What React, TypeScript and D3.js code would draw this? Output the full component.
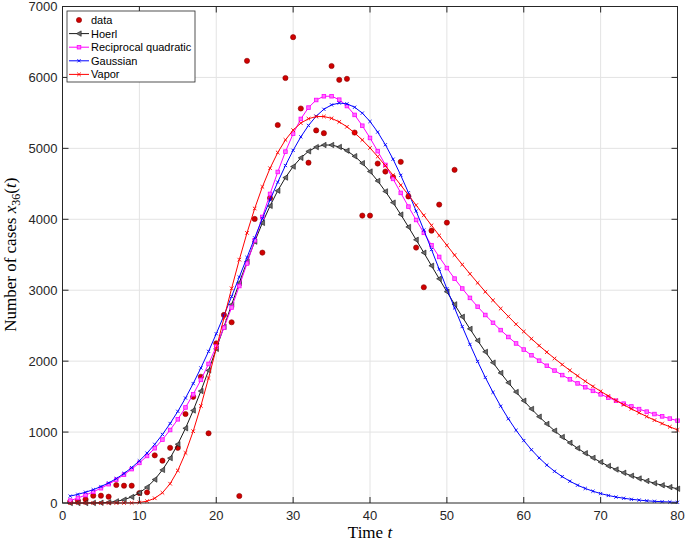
import React from "react";
import * as d3 from "d3";

// ---- data ----
const dataDays = [1, 2, 3, 4, 5, 6, 7, 8, 9, 10, 11, 12, 13, 14, 15, 16, 17, 18, 19, 20, 21, 22, 23, 24, 25, 26, 27, 28, 29, 30, 31, 32, 33, 34, 35, 36, 37, 38, 39, 40, 41, 42, 43, 44, 45, 46, 47, 48, 49, 50, 51];
const dataCases = [20, 35, 52, 103, 103, 89, 254, 244, 244, 140, 150, 672, 597, 778, 778, 1255, 1497, 1780, 983, 2250, 2652, 2548, 99, 6234, 4005, 3530, 4300, 5329, 5992, 6568, 5562, 4798, 5253, 5214, 6161, 5966, 5980, 5223, 4052, 4052, 4786, 4673, 4594, 4810, 4322, 3601, 3042, 3840, 4207, 3953, 4697];

const fitDays = d3.range(1, 81);
const hoerl = [0, 0.01, 0.17, 1, 3.5, 9.9, 23.1, 46.8, 85.3, 142.8, 223.5, 330.6, 466.6, 632.8, 829, 1053.9, 1304.7, 1578.3, 1869.6, 2173.1, 2483.9, 2796.3, 3104.3, 3402.1, 3685, 3949, 4189, 4403, 4588, 4743, 4866, 4958, 5018, 5047, 5047, 5020, 4967, 4889, 4791, 4673, 4541, 4393, 4235, 4067, 3892, 3711, 3529, 3345, 3161, 2979, 2801, 2625, 2455, 2290, 2131, 1979, 1834, 1696, 1565, 1442, 1326, 1217, 1115, 1019.5, 930.9, 848.4, 772.3, 701.8, 636.8, 577.1, 522.2, 471.9, 425.9, 383.9, 345.6, 310.8, 279.1, 250.3, 224.4, 200.8];
const recipQuad = [33.3, 70.4, 111.6, 157.4, 208.4, 265.2, 328.5, 399, 477.7, 565.4, 663.2, 772.3, 893.9, 1029.3, 1179.9, 1347, 1532.1, 1736.3, 1960.6, 2205.6, 2471.2, 2756.2, 3058.9, 3376.5, 3703.2, 4032.9, 4357.6, 4667.4, 4953.9, 5205.6, 5414.8, 5574.9, 5681.8, 5734.5, 5734.9, 5686.3, 5596.7, 5471.6, 5319.2, 5146.7, 4960.7, 4766.2, 4569.1, 4372, 4178.7, 3990.3, 3808.8, 3635, 3469.3, 3312.4, 3163.8, 3023.8, 2891.7, 2767.5, 2650.7, 2540.8, 2437.7, 2340.6, 2249.3, 2163.6, 2082.8, 2006.7, 1934.9, 1867.3, 1803.4, 1743, 1686, 1632, 1580.9, 1532.3, 1486.3, 1442.6, 1401, 1361.5, 1323.9, 1288.1, 1253.9, 1221.2, 1190.1, 1160.3];
const gaussian = [97, 122, 152, 188, 232, 283, 344, 416, 499, 594, 703, 827, 966, 1121, 1292, 1480, 1684, 1904, 2138, 2386, 2644, 2912, 3185, 3462, 3738, 4010, 4273, 4524, 4758, 4972, 5162, 5323, 5454, 5551, 5613, 5639, 5628, 5580, 5497, 5379, 5230, 5051, 4847, 4620, 4375, 4116, 3848, 3573, 3296, 3021, 2750, 2488, 2236, 1996, 1770, 1560, 1365, 1187, 1026, 880, 751, 636, 535, 447, 372, 307, 251, 205, 166, 133, 106, 84, 67, 52, 41, 31, 24, 18, 14, 10];
const vapor = [0, 0, 0, 0, 0, 0, 0.02, 0.22, 1.64, 7.62, 25.4, 66.5, 144.4, 272.1, 458.1, 706.1, 1012.2, 1368.3, 1761.8, 2178.5, 2605.7, 3026.6, 3430.6, 3808, 4152, 4457, 4720, 4941, 5119, 5257, 5356, 5418, 5448, 5449, 5423, 5373, 5304, 5218, 5118, 5006, 4884, 4755, 4621, 4482, 4341, 4199, 4056, 3914, 3772, 3633, 3496, 3362, 3231, 3104, 2978, 2858, 2741, 2630, 2521, 2417, 2316, 2219, 2127, 2038, 1952, 1870, 1792, 1716, 1644, 1575, 1509, 1445, 1385, 1327, 1272, 1219, 1168, 1120, 1074, 1030];

const xTicks = [0, 10, 20, 30, 40, 50, 60, 70, 80];
const yTicks = [0, 1000, 2000, 3000, 4000, 5000, 6000, 7000];
const legendLabels = ["data", "Hoerl", "Reciprocal quadratic", "Gaussian", "Vapor"];

// ---- layout ----
const W = 685;
const H = 543;
const L = 62.5, R = 677.5, T = 6.5, B = 503;
const AX = "#262626";
const SANS = "'Liberation Sans', Arial, Helvetica, sans-serif";
const SERIF = "'Liberation Serif', 'Times New Roman', serif";

const x = d3.scaleLinear().domain([0, 80]).range([L, R]);
const y = d3.scaleLinear().domain([0, 7000]).range([B, T]);

const lineGen = d3.line<[number, number]>().x(d => x(d[0])).y(d => y(d[1]));

function pts(vals: number[]): [number, number][] {
  return fitDays.map((t, i) => [t, vals[i]]);
}

function Tri({ cx, cy }: { cx: number; cy: number }) {
  return <path d={`M${cx - 2.6},${cy} L${cx + 2.2},${cy - 2.7} L${cx + 2.2},${cy + 2.7} Z`} fill="#6a6a6a" stroke="#1a1a1a" strokeWidth={0.6} />;
}
function Sq({ cx, cy }: { cx: number; cy: number }) {
  return <rect x={cx - 1.8} y={cy - 1.8} width={3.6} height={3.6} fill="#ff70ff" stroke="#ff00ff" strokeWidth={0.8} />;
}
function Cross({ cx, cy, color, s }: { cx: number; cy: number; color: string; s: number }) {
  return <path d={`M${cx - s},${cy - s} L${cx + s},${cy + s} M${cx - s},${cy + s} L${cx + s},${cy - s}`} stroke={color} strokeWidth={0.9} fill="none" />;
}

const series = [
  { name: "Hoerl", vals: hoerl, color: "#1a1a1a", marker: (cx: number, cy: number, k: string) => <Tri key={k} cx={cx} cy={cy} /> },
  { name: "Reciprocal quadratic", vals: recipQuad, color: "#ff00ff", marker: (cx: number, cy: number, k: string) => <Sq key={k} cx={cx} cy={cy} /> },
  { name: "Gaussian", vals: gaussian, color: "#0000ff", marker: (cx: number, cy: number, k: string) => <Cross key={k} cx={cx} cy={cy} color="#0000ff" s={1.6} /> },
  { name: "Vapor", vals: vapor, color: "#ff0000", marker: (cx: number, cy: number, k: string) => <Cross key={k} cx={cx} cy={cy} color="#ff0000" s={1.8} /> },
];

export default function App() {
  const lx = 67, ly = 11, lw = 128, lh = 71;
  const rowY = (i: number) => 20 + i * 13.6;
  return (
    <svg width={W} height={H} style={{ position: "absolute", left: 0, top: 0, background: "#fff" }} xmlns="http://www.w3.org/2000/svg">
      <rect x={0} y={0} width={W} height={H} fill="#fff" />
      {/* grid */}
      <g stroke="#e3e3e3" strokeWidth={1}>
        {xTicks.slice(1, -1).map(t => <line key={"gx" + t} x1={x(t)} x2={x(t)} y1={T} y2={B} />)}
        {yTicks.slice(1, -1).map(t => <line key={"gy" + t} x1={L} x2={R} y1={y(t)} y2={y(t)} />)}
      </g>
      {/* data */}
      <g>
        {dataDays.map((t, i) => (
          <circle key={"d" + t} cx={x(t)} cy={y(dataCases[i])} r={2.6} fill="#d00000" stroke="#8a0000" strokeWidth={0.6} />
        ))}
      </g>
      {/* fitted curves */}
      {series.map(s => (
        <g key={s.name}>
          <path d={lineGen(pts(s.vals)) || ""} fill="none" stroke={s.color} strokeWidth={1} />
          {pts(s.vals).map(([t, v]) => s.marker(x(t), y(v), s.name + t))}
        </g>
      ))}
      {/* box + ticks */}
      <rect x={L} y={T} width={R - L} height={B - T} fill="none" stroke={AX} strokeWidth={1} />
      <g stroke={AX} strokeWidth={1}>
        {xTicks.map(t => (
          <g key={"tx" + t}>
            <line x1={x(t)} x2={x(t)} y1={B} y2={B - 6} />
            <line x1={x(t)} x2={x(t)} y1={T} y2={T + 6} />
          </g>
        ))}
        {yTicks.map(t => (
          <g key={"ty" + t}>
            <line x1={L} x2={L + 6} y1={y(t)} y2={y(t)} />
            <line x1={R} x2={R - 6} y1={y(t)} y2={y(t)} />
          </g>
        ))}
      </g>
      <g fontFamily={SANS} fontSize={13} fill={AX}>
        {xTicks.map(t => (
          <text key={"lx" + t} x={x(t)} y={B + 17} textAnchor="middle">{t}</text>
        ))}
        {yTicks.map(t => (
          <text key={"ly" + t} x={L - 5} y={y(t) + 4.5} textAnchor="end">{t}</text>
        ))}
      </g>
      {/* axis labels */}
      <text x={(L + R) / 2} y={538} textAnchor="middle" fontFamily={SERIF} fontSize={17} fill="#000">
        Time <tspan fontStyle="italic">t</tspan>
      </text>
      <text transform={`translate(16,${(T + B) / 2}) rotate(-90)`} textAnchor="middle" fontFamily={SERIF} fontSize={17} fill="#000">
        Number of cases <tspan fontStyle="italic">x</tspan>
        <tspan fontSize={12} dy={4}>36</tspan>
        <tspan dy={-4}>(</tspan>
        <tspan fontStyle="italic">t</tspan>
        <tspan>)</tspan>
      </text>
      {/* legend */}
      <rect x={lx} y={ly} width={lw} height={lh} fill="#fff" stroke={AX} strokeWidth={0.8} />
      <g fontFamily={SANS} fontSize={11} fill="#000">
        {legendLabels.map((lab, i) => (
          <text key={"lg" + lab} x={91} y={rowY(i) + 4}>{lab}</text>
        ))}
      </g>
      <circle cx={79} cy={rowY(0)} r={2.6} fill="#d00000" stroke="#8a0000" strokeWidth={0.6} />
      {series.map((s, i) => (
        <g key={"lgm" + s.name}>
          <line x1={69} x2={89} y1={rowY(i + 1)} y2={rowY(i + 1)} stroke={s.color} strokeWidth={1} />
          {s.marker(79, rowY(i + 1), "lgmk" + s.name)}
        </g>
      ))}
    </svg>
  );
}
